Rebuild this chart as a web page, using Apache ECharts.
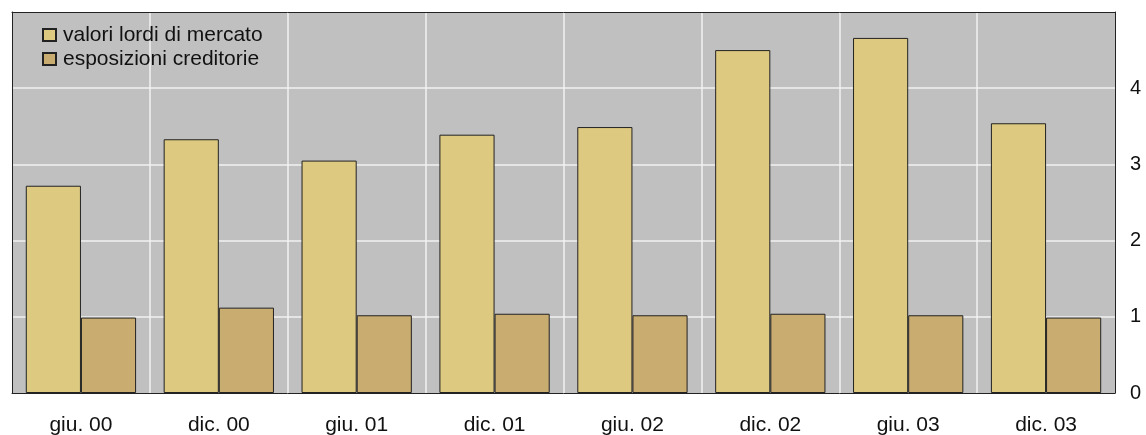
<!DOCTYPE html>
<html>
<head>
<meta charset="utf-8">
<script src="https://cdn.jsdelivr.net/npm/echarts@6/dist/echarts.min.js"></script>
<style>
html,body{margin:0;padding:0;background:#fff;}
#chart{width:1146px;height:435px;}
</style>
</head>
<body>
<div id="chart"></div>
<script>
var categories = ['giu. 00','dic. 00','giu. 01','dic. 01','giu. 02','dic. 02','giu. 03','dic. 03'];
var seriesNames = ['valori lordi di mercato','esposizioni creditorie'];
var valoriLordi = [2.72, 3.33, 3.05, 3.39, 3.49, 4.50, 4.66, 3.54];
var esposizioni = [0.99, 1.12, 1.02, 1.04, 1.02, 1.04, 1.02, 0.99];
var yTicks = [0, 1, 2, 3, 4, 5];

var chart = echarts.init(document.getElementById('chart'), null, {renderer:'canvas'});
var font = 'Liberation Sans, Arial, sans-serif';
var borderLine = {show: true, onZero: false, lineStyle: {color: '#222', width: 1}};
chart.setOption({
  animation: false,
  backgroundColor: '#ffffff',
  grid: {
    left: 12, right: 31, top: 12, bottom: 42,
    outerBoundsMode: 'none', containLabel: false,
    show: true, backgroundColor: '#c0c0c0', borderColor: '#222', borderWidth: 0
  },
  legend: {
    orient: 'vertical', left: 37, top: 19,
    itemWidth: 13, itemHeight: 12, itemGap: 2,
    icon: 'rect',
    textStyle: {fontFamily: font, fontSize: 21, lineHeight: 22, color: '#111', padding: [0,0,0,2]},
    data: seriesNames
  },
  xAxis: [{
    type: 'category', data: categories,
    axisLine: borderLine,
    axisTick: {show: false},
    splitLine: {show: true, interval: 0, showMinLine: false, showMaxLine: false, lineStyle: {color: '#f2f2f2', width: 1.5}},
    axisLabel: {fontFamily: font, fontSize: 21, color: '#111', margin: 22, interval: 0}
  }, {
    type: 'category', data: categories, position: 'top',
    axisLine: borderLine, axisTick: {show: false}, axisLabel: {show: false}, splitLine: {show: false}
  }],
  yAxis: [{
    type: 'value', position: 'right',
    min: yTicks[0], max: yTicks[yTicks.length-1], interval: 1,
    axisLine: borderLine,
    axisTick: {show: false},
    splitLine: {show: true, showMinLine: false, showMaxLine: false, lineStyle: {color: '#f2f2f2', width: 1.5}},
    axisLabel: {fontFamily: font, fontSize: 20, color: '#111', margin: 15,
      formatter: function(v){ return v === yTicks[yTicks.length-1] ? '' : String(v); }}
  }, {
    type: 'value', position: 'left',
    min: yTicks[0], max: yTicks[yTicks.length-1], interval: 1,
    axisLine: borderLine, axisTick: {show: false}, axisLabel: {show: false}, splitLine: {show: false}
  }],
  series: [
    {name: seriesNames[0], type: 'bar', data: valoriLordi, barGap: '0%', barCategoryGap: '20%',
     itemStyle: {color: '#dec981', borderColor: '#222', borderWidth: 1}},
    {name: seriesNames[1], type: 'bar', data: esposizioni, barGap: '0%', barCategoryGap: '20%',
     itemStyle: {color: '#c9ac6f', borderColor: '#222', borderWidth: 1}}
  ]
});
</script>
</body>
</html>
